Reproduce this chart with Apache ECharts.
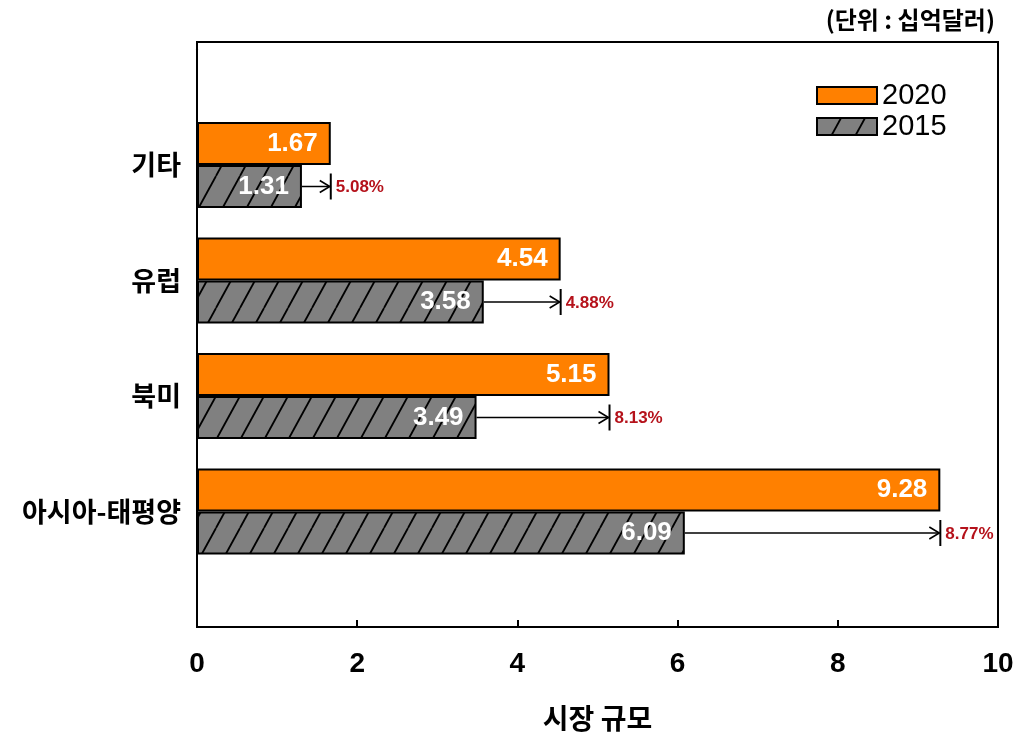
<!DOCTYPE html>
<html><head><meta charset="utf-8">
<script src="https://cdn.jsdelivr.net/npm/echarts@6/dist/echarts.min.js"></script>
<style>html,body{margin:0;padding:0;background:#fff}#c{width:1036px;height:743px}</style>
</head><body><div id="c"></div>
<script>
var categories = ['아시아-태평양', '북미', '유럽', '기타'];
var values2020 = [9.28, 5.15, 4.54, 1.67];
var values2015 = [6.09, 3.49, 3.58, 1.31];
var growth = ['8.77%', '8.13%', '4.88%', '5.08%'];
var xTicks = [0, 2, 4, 6, 8, 10];

var BAR_W = 43;
var KFONT = '"Noto Sans CJK KR", sans-serif';
var NFONT = '"Liberation Sans", Arial, sans-serif';

// hatch pattern
var cv = document.createElement('canvas');
cv.width = 24; cv.height = 44;
var g = cv.getContext('2d');
g.fillStyle = '#808080'; g.fillRect(0, 0, 24, 44);
g.strokeStyle = '#000'; g.lineWidth = 1.8;
[[-24, 0], [0, 0], [24, 0]].forEach(function (o) {
  g.beginPath(); g.moveTo(o[0], 44); g.lineTo(o[0] + 24, 0); g.stroke();
});

var yData = [''].concat(categories).concat(['']);
var d2020 = values2020.map(function (v, i) { return [v, i + 1]; });
var d2015 = values2015.map(function (v, i) { return [v, i + 1]; });
var dArrow = values2015.map(function (v, i) { return [v, values2020[i], i + 1]; });

var chart = echarts.init(document.getElementById('c'));
chart.setOption({
  animation: false,
  graphic: [{
    type: 'text', right: 41, top: 8,
    style: { text: '(단위 : 십억달러)', font: 'bold 24px ' + KFONT, fill: '#000' }
  }],
  legend: {
    orient: 'vertical', left: 811, top: 76,
    icon: 'rect',
    itemWidth: 60, itemHeight: 17, itemGap: 2,
    data: ['2020', '2015'],
    textStyle: { fontSize: 29, fontFamily: NFONT, color: '#000', padding: [0, 0, 0, 0] }
  },
  grid: [
    { left: 197, right: 38, top: 42, bottom: 116, show: true, borderColor: '#000', borderWidth: 2, backgroundColor: 'transparent' },
    { left: 197, right: 38, top: 49.5, bottom: 116 }
  ],
  xAxis: [
    { gridIndex: 0, type: 'value', min: 0, max: 10, show: false },
    {
      gridIndex: 1, type: 'value', min: 0, max: 10, interval: 2,
      axisLine: { show: true, lineStyle: { color: '#000', width: 2 } },
      axisTick: { show: true, inside: true, length: 7, lineStyle: { color: '#000', width: 2 } },
      splitLine: { show: false },
      axisLabel: { fontSize: 28, fontWeight: 'bold', color: '#000', fontFamily: NFONT, margin: 23 },
      name: '시장 규모', nameLocation: 'middle', nameGap: 77,
      nameTextStyle: { fontSize: 28, fontWeight: 'bold', color: '#000', fontFamily: KFONT }
    }
  ],
  yAxis: [
    { gridIndex: 0, type: 'value', show: false },
    {
      gridIndex: 1, type: 'category', data: yData, boundaryGap: false,
      axisLine: { show: true, lineStyle: { color: '#000', width: 2 } },
      axisTick: { show: false },
      axisLabel: { fontSize: 27, fontWeight: 'bold', color: '#000', fontFamily: KFONT, margin: 16 }
    }
  ],
  series: [
    {
      name: '2020', type: 'bar', xAxisIndex: 1, yAxisIndex: 1,
      data: d2020, barWidth: BAR_W, barGap: '0%',
      itemStyle: { color: '#FF8000', borderColor: '#000', borderWidth: 2 },
      label: { show: true, position: 'insideRight', distance: 13, color: '#fff', fontSize: 26, fontWeight: 'bold', fontFamily: NFONT },
      z: 3
    },
    {
      name: '2015', type: 'bar', xAxisIndex: 1, yAxisIndex: 1,
      data: d2015, barWidth: BAR_W, barGap: '0%',
      itemStyle: { color: { image: cv, repeat: 'repeat' }, borderColor: '#000', borderWidth: 2 },
      label: { show: true, position: 'insideRight', distance: 13, color: '#fff', fontSize: 26, fontWeight: 'bold', fontFamily: NFONT },
      z: 3
    },
    {
      name: 'arrow', type: 'custom', xAxisIndex: 1, yAxisIndex: 1,
      data: dArrow, encode: { x: [0, 1], y: 2 }, z: 5,
      renderItem: function (params, api) {
        var s = api.coord([api.value(0), api.value(2)]);
        var e = api.coord([api.value(1), api.value(2)]);
        var y = s[1] + BAR_W / 2;
        var x0 = s[0], x1 = e[0];
        return {
          type: 'group', children: [
            { type: 'line', shape: { x1: x0, y1: y, x2: x1 - 1, y2: y }, style: { stroke: '#000', lineWidth: 1.5 } },
            { type: 'polyline', shape: { points: [[x1 - 11, y - 6], [x1 - 1, y], [x1 - 11, y + 6]] }, style: { stroke: '#000', lineWidth: 1.6, fill: null } },
            { type: 'line', shape: { x1: x1, y1: y - 13, x2: x1, y2: y + 13 }, style: { stroke: '#000', lineWidth: 2 } },
            { type: 'text', x: x1 + 5, y: y + 1, style: { text: growth[params.dataIndex], fill: '#B5121B', font: 'bold 17px ' + NFONT, verticalAlign: 'middle', align: 'left' } }
          ]
        };
      }
    }
  ]
});
</script></body></html>
